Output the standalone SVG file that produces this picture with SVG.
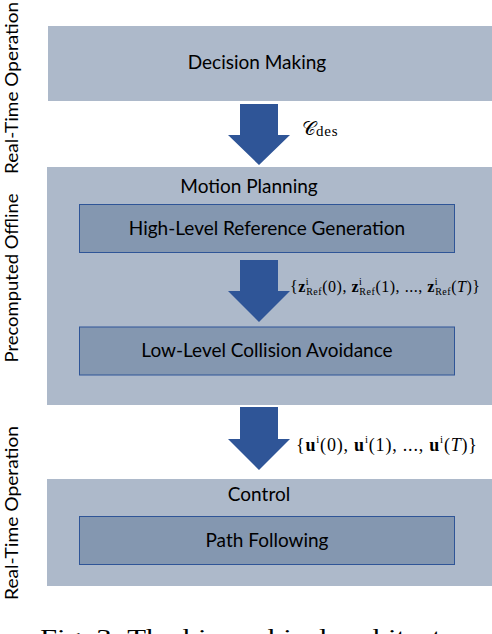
<svg xmlns="http://www.w3.org/2000/svg" width="492" height="634" viewBox="0 0 492 634">
<style>
.outer{fill:#ADB9CA}
.inner{fill:#8497B0;stroke:#2F5597;stroke-width:1}
.arrow{fill:#2F5597}
.lbl{font-family:Lato,"Open Sans",sans-serif;font-size:19px;fill:#000;text-anchor:middle}
.side{font-family:Lato,"Open Sans",sans-serif;font-size:18px;fill:#000;text-anchor:middle}
.math{font-family:"Liberation Serif","DejaVu Serif",serif;fill:#000}
.cap{font-family:"Liberation Serif",serif;font-size:24px;fill:#000}
</style>
<rect width="492" height="634" fill="#ffffff"/>
<g id="side-labels">
<text class="side" transform="translate(18,88) rotate(-90)" textLength="172" lengthAdjust="spacingAndGlyphs">Real-Time Operation</text>
<text class="side" transform="translate(18,278) rotate(-90)" textLength="169" lengthAdjust="spacingAndGlyphs">Precomputed Offline</text>
<text class="side" transform="translate(18,513) rotate(-90)" textLength="174" lengthAdjust="spacingAndGlyphs">Real-Time Operation</text>
</g>
<g id="decision-making">
<rect class="outer" x="48" y="26" width="444" height="75"/>
<text class="lbl" x="257" y="69">Decision Making</text>
</g>
<g id="motion-planning">
<rect class="outer" x="47" y="167" width="445" height="238"/>
<text class="lbl" x="249" y="193">Motion Planning</text>
</g>
<g id="high-level">
<rect class="inner" x="79.5" y="204.5" width="375" height="48"/>
<text class="lbl" x="267" y="235">High-Level Reference Generation</text>
</g>
<g id="low-level">
<rect class="inner" x="79.5" y="327" width="375" height="48"/>
<text class="lbl" x="267" y="357">Low-Level Collision Avoidance</text>
</g>
<g id="control">
<rect class="outer" x="47" y="479" width="445" height="107"/>
<text class="lbl" x="259" y="501">Control</text>
</g>
<g id="path-following">
<rect class="inner" x="79.5" y="516.5" width="375" height="48"/>
<text class="lbl" x="267" y="547">Path Following</text>
</g>
<g id="connectors">
<polygon class="arrow" points="240,104 278,104 278,135 290,135 259,165 228,135 240,135"/>
<polygon class="arrow" points="240,260 278,260 278,291 290,291 259,322 228,291 240,291"/>
<polygon class="arrow" points="240,407 278,407 278,439 290,439 259,470 228,439 240,439"/>
<text class="math" x="302" y="135" font-size="19"><tspan font-family="'DejaVu Serif',serif">𝒞</tspan><tspan font-size="15" dy="1" letter-spacing="0.8">des</tspan></text>
<text class="math" x="290" y="292" font-size="16" textLength="190" lengthAdjust="spacing">{<tspan font-weight="bold">z</tspan><tspan font-size="10" dy="-7">i</tspan><tspan font-size="10" dx="-3" dy="10">Ref</tspan><tspan dy="-3">(0), </tspan><tspan font-weight="bold">z</tspan><tspan font-size="10" dy="-7">i</tspan><tspan font-size="10" dx="-3" dy="10">Ref</tspan><tspan dy="-3">(1), ..., </tspan><tspan font-weight="bold">z</tspan><tspan font-size="10" dy="-7">i</tspan><tspan font-size="10" dx="-3" dy="10">Ref</tspan><tspan dy="-3">(</tspan><tspan font-style="italic">T</tspan>)}</text>
<text class="math" x="296" y="451" font-size="18" textLength="181" lengthAdjust="spacing">{<tspan font-weight="bold">u</tspan><tspan font-size="11" dy="-8">i</tspan><tspan dy="8">(0), </tspan><tspan font-weight="bold">u</tspan><tspan font-size="11" dy="-8">i</tspan><tspan dy="8">(1), ..., </tspan><tspan font-weight="bold">u</tspan><tspan font-size="11" dy="-8">i</tspan><tspan dy="8">(</tspan><tspan font-style="italic">T</tspan>)}</text>
</g>
<text class="cap" x="40" y="645" textLength="440" lengthAdjust="spacingAndGlyphs">Fig. 3: The hierarchical architecture</text>
</svg>
